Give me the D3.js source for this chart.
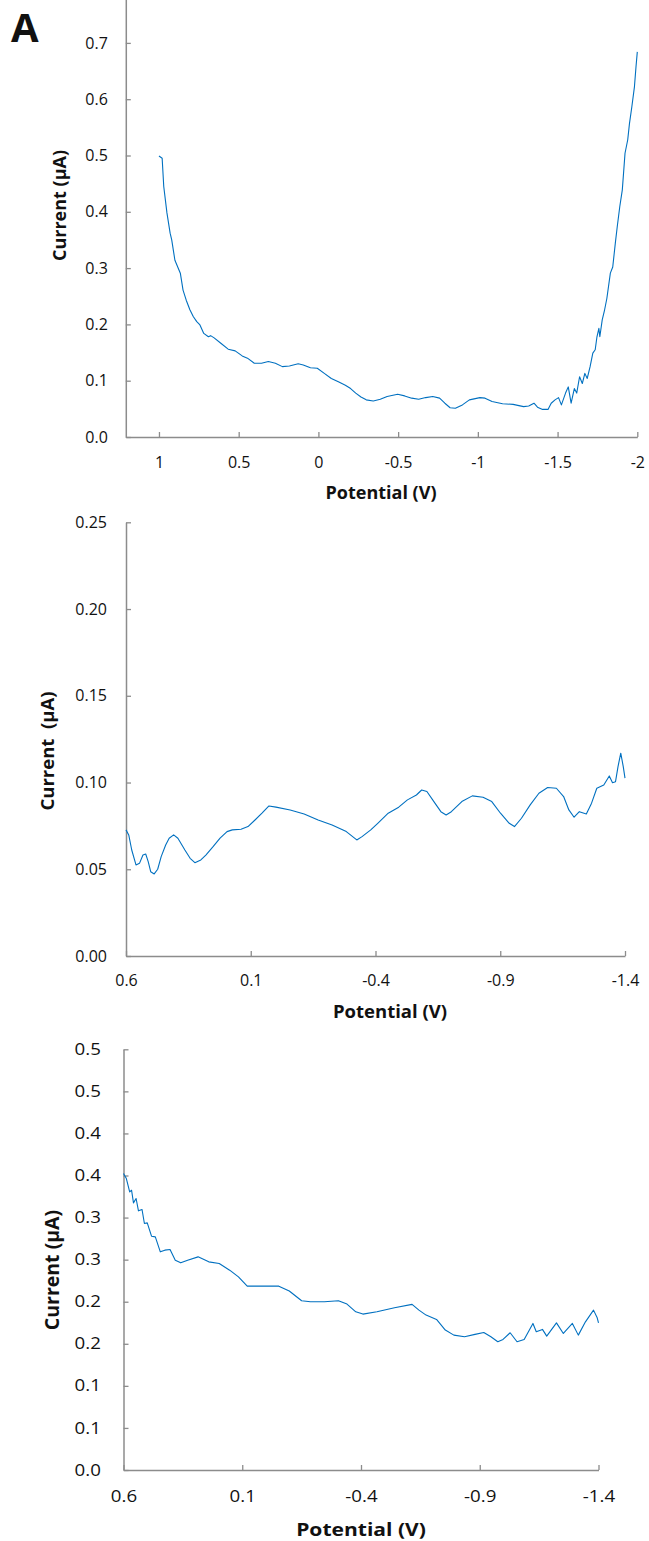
<!DOCTYPE html>
<html><head><meta charset="utf-8">
<script src="https://cdn.jsdelivr.net/npm/d3@7"></script>
<style>
body{margin:0;background:#fff}
svg{display:block;font-family:"Open Sans",sans-serif;background:#fff}
</style></head><body>
<svg id="c" width="649" height="1541"></svg>
<script>
// ---------- Panel 1 data ----------
const p1Potential=[1.0,0.98,0.97,0.95,0.93,0.92,0.90,0.866,0.849,0.829,0.806,0.785,0.763,0.743,0.719,0.69,0.676,0.654,0.61,0.566,0.522,0.478,0.445,0.402,0.357,0.314,0.27,0.226,0.182,0.127,0.095,0.05,0.007,-0.037,-0.081,-0.125,-0.169,-0.202,-0.234,-0.267,-0.30,-0.344,-0.388,-0.431,-0.497,-0.541,-0.585,-0.629,-0.673,-0.717,-0.760,-0.793,-0.826,-0.859,-0.903,-0.947,-1.013,-1.045,-1.089,-1.155,-1.221,-1.287,-1.319,-1.352,-1.374,-1.406,-1.44,-1.46,-1.484,-1.506,-1.524,-1.55,-1.567,-1.585,-1.605,-1.62,-1.638,-1.655,-1.671,-1.686,-1.704,-1.721,-1.736,-1.747,-1.759,-1.765,-1.78,-1.795,-1.809,-1.831,-1.846,-1.862,-1.874,-1.89,-1.906,-1.923,-1.94,-1.951,-1.966,-1.982,-1.992,-2.0];
const p1Current=[0.499,0.495,0.445,0.398,0.362,0.35,0.314,0.291,0.261,0.243,0.226,0.214,0.205,0.199,0.184,0.178,0.180,0.176,0.166,0.156,0.153,0.144,0.140,0.131,0.131,0.134,0.131,0.125,0.126,0.130,0.128,0.123,0.122,0.113,0.104,0.098,0.092,0.086,0.078,0.071,0.066,0.064,0.067,0.072,0.076,0.073,0.069,0.067,0.070,0.072,0.069,0.060,0.052,0.051,0.057,0.066,0.070,0.069,0.063,0.059,0.058,0.054,0.055,0.060,0.053,0.049,0.049,0.060,0.066,0.070,0.057,0.078,0.089,0.060,0.086,0.078,0.107,0.095,0.113,0.104,0.125,0.149,0.155,0.178,0.193,0.178,0.208,0.226,0.246,0.291,0.302,0.344,0.373,0.409,0.439,0.504,0.528,0.557,0.587,0.622,0.658,0.684];
const p1XTicks=[1,0.5,0,-0.5,-1,-1.5,-2];
const p1XLabels=["1","0.5","0","-0.5","-1","-1.5","-2"];
const p1YTicks=[0,0.1,0.2,0.3,0.4,0.5,0.6,0.7];
const p1YLabels=["0.0","0.1","0.2","0.3","0.4","0.5","0.6","0.7"];

// ---------- Panel 2 data ----------
const p2Potential=[0.6,0.589,0.577,0.56,0.546,0.532,0.521,0.511,0.501,0.487,0.473,0.459,0.441,0.427,0.409,0.392,0.364,0.343,0.324,0.30,0.28,0.251,0.223,0.195,0.174,0.139,0.111,0.083,0.055,0.027,-0.001,-0.058,-0.114,-0.17,-0.226,-0.283,-0.325,-0.346,-0.381,-0.409,-0.451,-0.493,-0.528,-0.564,-0.585,-0.606,-0.634,-0.662,-0.683,-0.704,-0.746,-0.788,-0.831,-0.866,-0.901,-0.936,-0.957,-0.985,-1.02,-1.055,-1.09,-1.125,-1.154,-1.175,-1.196,-1.217,-1.245,-1.266,-1.287,-1.315,-1.337,-1.35,-1.362,-1.372,-1.383,-1.393,-1.4];
const p2Current=[0.0727,0.0698,0.0611,0.0525,0.0534,0.0582,0.0588,0.0544,0.0486,0.0473,0.050,0.0573,0.064,0.0679,0.0698,0.0679,0.0611,0.0563,0.0538,0.0554,0.0582,0.063,0.0679,0.0717,0.0727,0.0731,0.0746,0.0784,0.0823,0.0865,0.0858,0.0842,0.0819,0.0784,0.0755,0.0717,0.0669,0.0688,0.0727,0.0765,0.0823,0.0858,0.090,0.0928,0.0957,0.0948,0.089,0.0832,0.0813,0.0832,0.089,0.0923,0.0915,0.089,0.0823,0.0765,0.0746,0.0794,0.0871,0.0938,0.0971,0.0967,0.0919,0.0842,0.080,0.0832,0.0819,0.0881,0.0967,0.0986,0.1038,0.0999,0.1005,0.1092,0.1169,0.1092,0.1025];
const p2XTicks=[0.6,0.1,-0.4,-0.9,-1.4];
const p2XLabels=["0.6","0.1","-0.4","-0.9","-1.4"];
const p2YTicks=[0,0.05,0.10,0.15,0.20,0.25];
const p2YLabels=["0.00","0.05","0.10","0.15","0.20","0.25"];

// ---------- Panel 3 data ----------
const p3Potential=[0.6,0.588,0.574,0.566,0.558,0.547,0.537,0.522,0.512,0.50,0.482,0.466,0.445,0.426,0.404,0.382,0.359,0.33,0.286,0.241,0.197,0.153,0.116,0.079,0.02,-0.054,-0.098,-0.15,-0.187,-0.246,-0.305,-0.341,-0.378,-0.408,-0.467,-0.541,-0.615,-0.644,-0.674,-0.718,-0.755,-0.791,-0.836,-0.88,-0.917,-0.947,-0.976,-0.998,-1.028,-1.057,-1.087,-1.124,-1.138,-1.164,-1.182,-1.223,-1.252,-1.29,-1.315,-1.345,-1.379,-1.394,-1.4];
const p3Current=[0.3524,0.3464,0.3305,0.3325,0.3175,0.3227,0.308,0.3096,0.293,0.2937,0.2779,0.2771,0.2593,0.2613,0.2621,0.2494,0.2462,0.2494,0.2533,0.2474,0.2455,0.2375,0.2296,0.2185,0.2185,0.2185,0.2128,0.2011,0.1999,0.1999,0.2011,0.1972,0.188,0.1853,0.188,0.1928,0.1968,0.19,0.1841,0.179,0.1663,0.1603,0.1583,0.1612,0.1635,0.1583,0.1524,0.1552,0.1631,0.1524,0.1552,0.1742,0.1643,0.1671,0.1591,0.1749,0.1623,0.1742,0.1603,0.1761,0.19,0.1813,0.1749];
const p3XTicks=[0.6,0.1,-0.4,-0.9,-1.4];
const p3XLabels=["0.6","0.1","-0.4","-0.9","-1.4"];
const p3YTicks=[0,0.05,0.10,0.15,0.20,0.25,0.30,0.35,0.40,0.45,0.50];
const p3YLabels=["0.0","0.1","0.1","0.2","0.2","0.3","0.3","0.4","0.4","0.5","0.5"];

const AXIS="#8c8c8c", LINE="#0070c0", TEXT="#111";
const svg=d3.select("#c");

function panel(o){
  const x=d3.scaleLinear().domain(o.xDomain).range(o.xRange);
  const y=d3.scaleLinear().domain(o.yDomain).range(o.yRange);
  const g=svg.append("g");
  const sx=o.sx||1;
  const ya=d3.axisLeft(y).tickValues(o.yTicks).tickFormat((d,i)=>o.yLabels[i])
    .tickSizeInner(-5).tickSizeOuter(0).tickPadding(o.yPad);
  const xa=d3.axisBottom(x).tickValues(o.xTicks).tickFormat((d,i)=>o.xLabels[i])
    .tickSizeInner(-5).tickSizeOuter(0).tickPadding(o.xPad);
  const gy=g.append("g").attr("transform",`translate(${o.xRange[0]},0)`).call(ya);
  const gx=g.append("g").attr("transform",`translate(0,${o.yRange[0]})`).call(xa);
  [gy,gx].forEach(a=>{
    a.select(".domain").attr("stroke",AXIS).attr("stroke-width",1.5);
    a.selectAll(".tick line").attr("stroke",AXIS).attr("stroke-width",1.3);
    a.selectAll(".tick text").attr("fill",TEXT).attr("font-size",o.fs)
      .attr("font-family",'"Open Sans",sans-serif')
      .attr("transform",sx!==1?`scale(${sx},1)`:null);
  });
  const pts=d3.zip(o.px,o.py);
  g.append("path").datum(pts).attr("fill","none").attr("stroke",LINE)
    .attr("stroke-width",1.1).attr("stroke-linejoin","round")
    .attr("d",d3.line().x(d=>x(d[0])).y(d=>y(d[1])));
  g.append("text").attr("transform",`translate(${o.xt[0]},${o.xt[1]}) scale(${sx},1)`)
    .attr("text-anchor","middle").attr("font-weight","bold").attr("font-size",o.tfs)
    .attr("fill",TEXT).text("Potential (V)");
  g.append("text").attr("transform",`translate(${o.yt[0]},${o.yt[1]}) rotate(-90)`)
    .attr("text-anchor","middle").attr("dy","0.35em").attr("font-weight","bold")
    .attr("font-size",o.ytfs||o.tfs).attr("fill",TEXT).style("white-space","pre")
    .text(o.ytitle);
}

panel({xDomain:[1.208,-2],xRange:[125.8,637.3],yDomain:[0,0.8],yRange:[437,-13.4],
  xTicks:p1XTicks,xLabels:p1XLabels,yTicks:p1YTicks,yLabels:p1YLabels,
  px:p1Potential,py:p1Current,yPad:18,xPad:20,fs:16,tfs:18,
  xt:[381,499],yt:[60,205.5],ytitle:"Current (µA)"});

panel({xDomain:[0.6,-1.4],xRange:[126,625],yDomain:[0,0.25],yRange:[956,522.3],
  xTicks:p2XTicks,xLabels:p2XLabels,yTicks:p2YTicks,yLabels:p2YLabels,
  px:p2Potential,py:p2Current,yPad:19,xPad:19,fs:16,tfs:18.5,
  xt:[390,1018],yt:[48,751],ytitle:"Current  (µA)"});

panel({xDomain:[0.6,-1.4],xRange:[123.5,598.5],yDomain:[0,0.5],yRange:[1470,1049.3],
  xTicks:p3XTicks,xLabels:p3XLabels,yTicks:p3YTicks,yLabels:p3YLabels,
  px:p3Potential,py:p3Current,yPad:19.3,xPad:21,fs:16,tfs:18,ytfs:19.5,sx:1.17,
  xt:[361,1536],yt:[52,1270],ytitle:"Current (µA)"});

svg.append("text").attr("x",11).attr("y",42).attr("font-weight","bold")
  .attr("font-size",40).attr("fill",TEXT).text("A");
</script>
</body></html>
